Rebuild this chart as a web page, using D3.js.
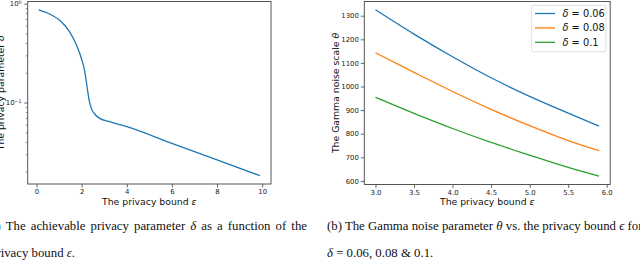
<!DOCTYPE html>
<html><head><meta charset="utf-8">
<script src="https://cdn.jsdelivr.net/npm/d3@7"></script>
<style>
body{margin:0;background:#fff;}
svg{display:block;}
</style></head>
<body><svg id="c" width="640" height="260"></svg>
<script>
// ---- Panel (a) data ----
const epsA = [0.1, 0.6, 1.1, 1.47, 1.77, 1.99, 2.14, 2.24, 2.33, 2.43, 2.58, 2.8, 3.24, 4.0, 6.0, 8.0, 9.9];
const deltaA = [0.867, 0.783, 0.655, 0.519, 0.381, 0.279, 0.205, 0.1445, 0.106, 0.0873, 0.0766, 0.0692, 0.064, 0.057, 0.0387, 0.0263, 0.0182];
const xTicksA = [0, 2, 4, 6, 8, 10];
const yTicksA = [1, 0.1];
const yMinorA = [0.02,0.03,0.04,0.05,0.06,0.07,0.08,0.09,0.2,0.3,0.4,0.5,0.6,0.7,0.8,0.9];

// ---- Panel (b) data ----
const epsB = [3.0, 3.5, 4.0, 4.5, 5.0, 5.5, 5.9];
const theta006 = [1325, 1222, 1126, 1037, 958, 887, 832];
const theta008 = [1143, 1060, 979, 903, 834, 771, 728];
const theta01  = [954, 886, 822, 763, 709, 657, 620];
const seriesLabels = ["0.06", "0.08", "0.1"];
const seriesColors = ["#1f77b4", "#ff7f0e", "#2ca02c"];
const xTicksB = [3.0, 3.5, 4.0, 4.5, 5.0, 5.5, 6.0];
const yTicksB = [600, 700, 800, 900, 1000, 1100, 1200, 1300];

const svg = d3.select("#c");
const SANS = "DejaVu Sans, sans-serif";
const SERIF = "Liberation Serif, Times New Roman, serif";
const tickFont = 6.9, labelFont = 9.3;
const axisColor = "#444";

function styleAxis(g){
  g.select(".domain").remove();
  g.selectAll(".tick line").attr("stroke", axisColor).attr("stroke-width", 0.8);
  g.selectAll(".tick text").attr("fill", "#222").style("font-family", SANS).style("font-size", tickFont + "px");
}

// ===== Panel (a) =====
const A = {l: 27.7, r: 271, t: 1.5, b: 184};
const xA = d3.scaleLinear().domain([d3.min(epsA) - 0.49, d3.max(epsA) + 0.49]).range([A.l, A.r]);
const lmin = Math.log10(d3.min(deltaA)), lmax = Math.log10(d3.max(deltaA));
const pad = (lmax - lmin) * 0.05;
const yA = d3.scaleLog().domain([Math.pow(10, lmin - pad), Math.pow(10, lmax + pad)]).range([A.b, A.t]);

const gxA = svg.append("g").attr("transform", `translate(0,${A.b})`)
  .call(d3.axisBottom(xA).tickValues(xTicksA).tickSize(3.5).tickPadding(2).tickFormat(d3.format("d")));
styleAxis(gxA);

svg.append("g").attr("transform", `translate(${A.l},0)`)
  .call(d3.axisLeft(yA).tickValues(yMinorA).tickSize(2).tickFormat(""))
  .call(g => { g.select(".domain").remove(); g.selectAll(".tick line").attr("stroke", axisColor).attr("stroke-width", 0.6); });

const gyA = svg.append("g").attr("transform", `translate(${A.l},0)`)
  .call(d3.axisLeft(yA).tickValues(yTicksA).tickSize(3.5).tickPadding(2).tickFormat(""));
styleAxis(gyA);
gyA.selectAll(".tick").each(function(d){
  const t = d3.select(this).append("text").attr("x", -6).attr("dy", "0.32em").attr("text-anchor", "end")
    .attr("fill", "#222").style("font-family", SANS).style("font-size", tickFont + "px");
  t.append("tspan").text("10");
  t.append("tspan").attr("dy", "-0.45em").style("font-size", (tickFont*0.7) + "px").text(String(Math.round(Math.log10(d))).replace("-", "\u2212"));
});

svg.append("path").datum(epsA.map((e, i) => [e, deltaA[i]]))
  .attr("fill", "none").attr("stroke", "#1f77b4").attr("stroke-width", 1.3)
  .attr("d", d3.line().x(d => xA(d[0])).y(d => yA(d[1])).curve(d3.curveMonotoneX));

svg.append("rect").attr("x", A.l).attr("y", A.t).attr("width", A.r - A.l).attr("height", A.b - A.t)
  .attr("fill", "none").attr("stroke", axisColor).attr("stroke-width", 0.9);

// axis labels (a)
const xlA = svg.append("text").attr("x", (A.l + A.r) / 2).attr("y", 205).attr("text-anchor", "middle")
  .style("font-family", SANS).style("font-size", labelFont + "px").attr("fill", "#111");
xlA.append("tspan").text("The privacy bound ");
xlA.append("tspan").style("font-style", "italic").text("ε");

const ylA = svg.append("text").attr("transform", `translate(3.5,${(A.t + A.b) / 2}) rotate(-90)`).attr("text-anchor", "middle")
  .style("font-family", SANS).style("font-size", labelFont + "px").attr("fill", "#111");
ylA.append("tspan").text("The privacy parameter ");
ylA.append("tspan").style("font-style", "italic").text("δ");

// ===== Panel (b) =====
const B = {l: 364.3, r: 610.2, t: 1.5, b: 184.5};
const xB = d3.scaleLinear().domain([d3.min(epsB) - 0.145, d3.max(epsB) + 0.145]).range([B.l, B.r]);
const allB = theta006.concat(theta008, theta01);
const bmin = d3.min(allB), bmax = d3.max(allB), bpad = (bmax - bmin) * 0.05;
const yB = d3.scaleLinear().domain([bmin - bpad, bmax + bpad]).range([B.b, B.t]);

const gxB = svg.append("g").attr("transform", `translate(0,${B.b})`)
  .call(d3.axisBottom(xB).tickValues(xTicksB).tickSize(3.5).tickPadding(2).tickFormat(d3.format(".1f")));
styleAxis(gxB);
const gyB = svg.append("g").attr("transform", `translate(${B.l},0)`)
  .call(d3.axisLeft(yB).tickValues(yTicksB).tickSize(3.5).tickPadding(2).tickFormat(d3.format("d")));
styleAxis(gyB);

const seriesB = [theta006, theta008, theta01];
seriesB.forEach((s, k) => {
  svg.append("path").datum(epsB.map((e, i) => [e, s[i]]))
    .attr("fill", "none").attr("stroke", seriesColors[k]).attr("stroke-width", 1.3)
    .attr("d", d3.line().x(d => xB(d[0])).y(d => yB(d[1])).curve(d3.curveMonotoneX));
});

svg.append("rect").attr("x", B.l).attr("y", B.t).attr("width", B.r - B.l).attr("height", B.b - B.t)
  .attr("fill", "none").attr("stroke", axisColor).attr("stroke-width", 0.9);

// legend
const lg = svg.append("g");
lg.append("rect").attr("x", 531.7).attr("y", 5.3).attr("width", 74.3).attr("height", 46.4).attr("rx", 2)
  .attr("fill", "#fff").attr("fill-opacity", 0.8).attr("stroke", "#d6d6d6").attr("stroke-width", 0.8);
seriesLabels.forEach((lab, k) => {
  const yy = 13.5 + k * 14.4;
  lg.append("line").attr("x1", 535).attr("x2", 555).attr("y1", yy).attr("y2", yy)
    .attr("stroke", seriesColors[k]).attr("stroke-width", 1.3);
  const t = lg.append("text").attr("x", 562.5).attr("y", yy).attr("dy", "0.35em")
    .style("font-family", SANS).style("font-size", "9.8px").attr("fill", "#111");
  t.append("tspan").style("font-style", "italic").text("δ");
  t.append("tspan").text(" = " + lab);
});

// axis labels (b)
const xlB = svg.append("text").attr("x", (B.l + B.r) / 2).attr("y", 205).attr("text-anchor", "middle")
  .style("font-family", SANS).style("font-size", labelFont + "px").attr("fill", "#111");
xlB.append("tspan").text("The privacy bound ");
xlB.append("tspan").style("font-style", "italic").text("ε");

const ylB = svg.append("text").attr("transform", `translate(339,${(B.t + B.b) / 2}) rotate(-90)`).attr("text-anchor", "middle")
  .style("font-family", SANS).style("font-size", labelFont + "px").attr("fill", "#111");
ylB.append("tspan").text("The Gamma noise scale ");
ylB.append("tspan").style("font-style", "italic").text("θ");

// captions
const capFont = "12.8px";
function cap(x, y, anchor, parts){
  const t = svg.append("text").attr("x", x).attr("y", y).attr("text-anchor", anchor)
    .style("font-family", SERIF).style("font-size", capFont).attr("fill", "#111");
  parts.forEach(p => t.append("tspan").style("font-style", p[1] ? "italic" : "normal").text(p[0]));
  return t;
}
cap(307, 230, "end", [["(a) The achievable privacy parameter ", 0], ["δ", 1], [" as a function of the", 0]]).attr("word-spacing", "1.9px");
cap(-10, 257, "start", [["privacy bound ", 0], ["ε", 1], [".", 0]]);
cap(327, 230, "start", [["(b) The Gamma noise parameter ", 0], ["θ", 1], [" vs. the privacy bound ", 0], ["ϵ", 1], [" for", 0]]);
cap(327, 257, "start", [["δ", 1], [" = 0.06, 0.08 & 0.1.", 0]]);
</script>
</body></html>
